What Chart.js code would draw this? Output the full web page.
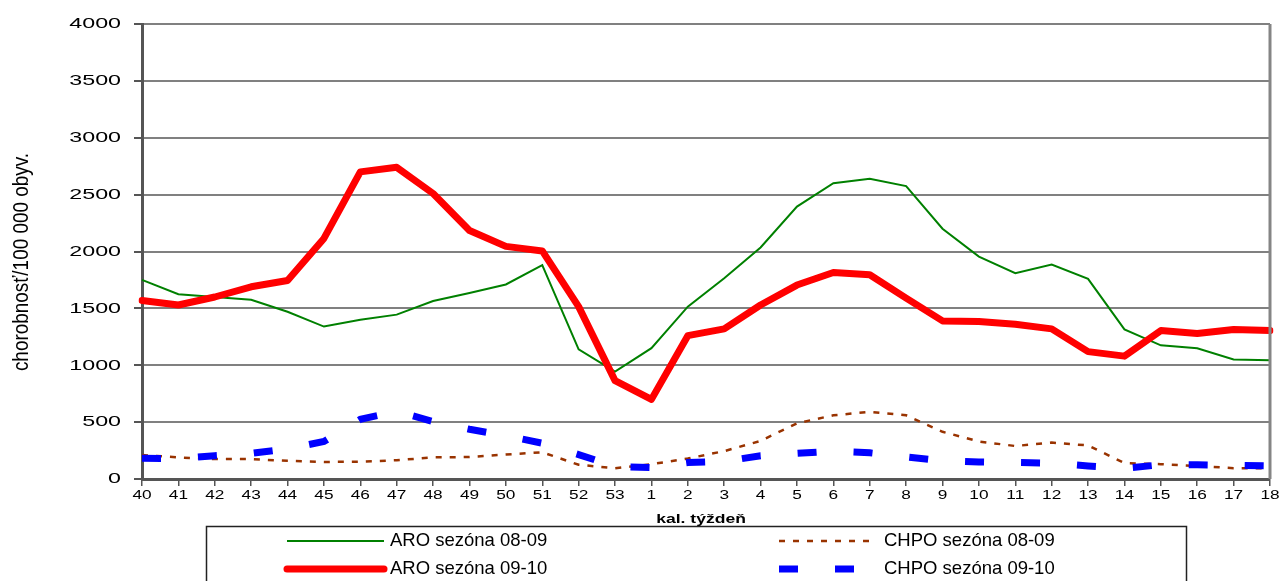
<!DOCTYPE html>
<html>
<head>
<meta charset="utf-8">
<script src="https://cdn.jsdelivr.net/npm/chart.js@4.4.1/dist/chart.umd.min.js"></script>
<style>
  html, body { margin: 0; padding: 0; background: #fff; }
  #wrap { width: 1280px; height: 581px; }
</style>
</head>
<body>
<div id="wrap"><canvas id="chart" width="1280" height="581"></canvas></div>
<script>
const weeks = ['40', '41', '42', '43', '44', '45', '46', '47', '48', '49', '50', '51', '52', '53',
  '1', '2', '3', '4', '5', '6', '7', '8', '9', '10', '11', '12', '13', '14', '15', '16', '17', '18'];

const aro0809 = [1750, 1625, 1600, 1575, 1470, 1340, 1400, 1445, 1565, 1635, 1710, 1880, 1140, 945,
  1150, 1515, 1765, 2035, 2395, 2600, 2640, 2575, 2200, 1955, 1810, 1885, 1760, 1315, 1175, 1150, 1050, 1045];
const chpo0809 = [210, 190, 175, 175, 160, 150, 152, 165, 190, 193, 215, 235, 125, 95,
  130, 180, 245, 335, 490, 560, 590, 560, 415, 330, 290, 320, 295, 140, 130, 115, 95, 95];
const aro0910 = [1570, 1530, 1600, 1690, 1745, 2115, 2700, 2740, 2510, 2185, 2045, 2005, 1515, 865,
  700, 1260, 1320, 1530, 1705, 1815, 1795, 1590, 1390, 1385, 1360, 1320, 1120, 1080, 1305, 1280, 1315, 1305];
const chpo0910 = [182, 180, 205, 225, 265, 330, 525, 595, 505, 437, 380, 315, 215, 110,
  100, 145, 155, 205, 225, 245, 230, 195, 160, 150, 145, 140, 115, 95, 125, 125, 120, 115];

const yTicks = [0, 500, 1000, 1500, 2000, 2500, 3000, 3500, 4000];
const seriesNames = ['ARO sezóna 08-09', 'CHPO sezóna 08-09', 'ARO sezóna 09-10', 'CHPO sezóna 09-10'];
const yTitle = 'chorobnosť/100 000 obyv.';
const xTitle = 'kal. týždeň';

const FONT = 'Arial, "Liberation Sans", sans-serif';

// labels, titles, frame and legend drawn by hand so they can be stretched like the original
const decor = {
  id: 'decor',
  afterDraw(chart) {
    const { ctx, chartArea: a, scales: { x, y } } = chart;
    ctx.save();

    // right frame line
    ctx.strokeStyle = '#858585';
    ctx.lineWidth = 3;
    ctx.beginPath();
    ctx.moveTo(a.right, a.top);
    ctx.lineTo(a.right, a.bottom);
    ctx.stroke();

    ctx.fillStyle = '#000';
    ctx.textBaseline = 'middle';

    // y tick labels (wide)
    ctx.font = '15.5px ' + FONT;
    ctx.textAlign = 'right';
    yTicks.forEach((v) => {
      ctx.save();
      ctx.translate(a.left - 21, y.getPixelForValue(v));
      ctx.scale(1.5, 1);
      ctx.fillText(String(v), 0, 0);
      ctx.restore();
    });

    // x tick labels
    ctx.font = '12.5px ' + FONT;
    ctx.textAlign = 'center';
    weeks.forEach((w, i) => {
      ctx.save();
      ctx.translate(x.getPixelForValue(i), a.bottom + 17);
      ctx.scale(1.38, 1);
      ctx.fillText(w, 0, 0);
      ctx.restore();
    });

    // x title
    ctx.save();
    ctx.font = 'bold 13.5px ' + FONT;
    ctx.textBaseline = 'alphabetic';
    ctx.translate(701, 523);
    ctx.scale(1.3, 1);
    ctx.fillText(xTitle, 0, 0);
    ctx.restore();

    // y title (squeezed)
    ctx.save();
    ctx.font = '22px ' + FONT;
    ctx.translate(22, 262);
    ctx.rotate(-Math.PI / 2);
    ctx.scale(0.86, 1);
    ctx.fillText(yTitle, 0, 0);
    ctx.restore();

    // legend box
    ctx.strokeStyle = '#222';
    ctx.lineWidth = 1.5;
    ctx.strokeRect(206.5, 526.5, 980, 80);

    const ds = chart.data.datasets;
    const items = [
      { d: ds[0], x0: 287, x1: 384, tx: 390, y: 541 },
      { d: ds[1], x0: 779, x1: 876, tx: 884, y: 541 },
      { d: ds[2], x0: 287, x1: 384, tx: 390, y: 569 },
      { d: ds[3], x0: 779, x1: 876, tx: 884, y: 569 },
    ];
    ctx.font = '18.5px ' + FONT;
    ctx.textAlign = 'left';
    items.forEach((it) => {
      ctx.save();
      ctx.strokeStyle = it.d.borderColor;
      ctx.lineWidth = it.d.borderWidth;
      ctx.lineCap = it.d.borderCapStyle || 'butt';
      ctx.setLineDash(it.d.borderDash || []);
      ctx.beginPath();
      ctx.moveTo(it.x0, it.y);
      ctx.lineTo(it.x1, it.y);
      ctx.stroke();
      ctx.restore();
      ctx.fillStyle = '#000';
      ctx.fillText(it.d.label, it.tx, it.y);
    });

    ctx.restore();
  },
};

new Chart(document.getElementById('chart'), {
  type: 'line',
  data: {
    labels: weeks,
    datasets: [
      {
        label: seriesNames[0], data: aro0809, borderColor: '#008000', borderWidth: 2,
        order: 3,
      },
      {
        label: seriesNames[1], data: chpo0809, borderColor: '#993300', borderWidth: 2.5,
        borderDash: [6, 8], order: 4,
      },
      {
        label: seriesNames[2], data: aro0910, borderColor: '#ff0000', borderWidth: 7,
        borderCapStyle: 'round', borderJoinStyle: 'round', order: 1,
      },
      {
        label: seriesNames[3], data: chpo0910, borderColor: '#0000ff', borderWidth: 7,
        borderDash: [19, 37], order: 2,
      },
    ],
  },
  options: {
    responsive: false,
    animation: false,
    devicePixelRatio: 1,
    layout: { padding: { top: 24, right: 10, left: 0, bottom: 0 } },
    elements: { point: { radius: 0, hoverRadius: 0 }, line: { tension: 0, fill: false } },
    plugins: { legend: { display: false }, tooltip: { enabled: false }, title: { display: false } },
    scales: {
      x: {
        offset: false,
        grid: { drawOnChartArea: false, drawTicks: true, tickLength: 7, tickColor: '#555', lineWidth: 1.5 },
        border: { color: '#555', width: 3 },
        ticks: { autoSkip: false, maxRotation: 0, color: 'rgba(0,0,0,0)', font: { size: 10 } },
        afterFit: (s) => { s.height = 102; },
      },
      y: {
        min: 0,
        max: 4000,
        grid: { color: '#808080', lineWidth: 2, tickLength: 8, tickColor: '#555' },
        border: { color: '#555', width: 3 },
        ticks: { stepSize: 500, color: 'rgba(0,0,0,0)', font: { size: 10 } },
        afterFit: (s) => { s.width = 142; },
      },
    },
  },
  plugins: [decor],
});
</script>
</body>
</html>
